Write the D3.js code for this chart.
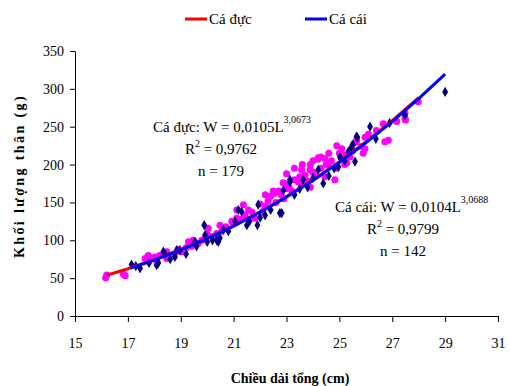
<!DOCTYPE html>
<html>
<head>
<meta charset="utf-8">
<script src="https://cdn.jsdelivr.net/npm/d3@7"></script>
<style>
  body { margin: 0; background: #fff; }
  svg { font-family: 'Liberation Serif', 'Times New Roman', serif; }
</style>
</head>
<body>
<figure id="chart" style="margin:0"></figure>
<script>
// male fish (Cá đực) - [length cm, weight g]
const malePoints = [
  [16.16, 50.6], [16.2, 54], [16.83, 55], [16.9, 53], [17.65, 76], [17.75, 78], [17.8, 74],
  [17.9, 77], [17.95, 76], [17.77, 80], [18.03, 78], [18.1, 72], [18.2, 80], [18.47, 76],
  [18.47, 85], [18.6, 80], [18.75, 82], [18.9, 88], [19.0, 85], [19.2, 90], [19.29, 98],
  [19.41, 92], [19.47, 100], [19.54, 96], [19.66, 96], [19.8, 100], [19.92, 103], [20.0, 108],
  [20.04, 116], [20.2, 105], [20.36, 109], [20.48, 120], [20.55, 112], [20.6, 115], [20.7, 118],
  [20.93, 125], [21.0, 122], [21.12, 129], [21.12, 140], [21.3, 128], [21.37, 147], [21.43, 133],
  [21.56, 140], [21.7, 137], [21.8, 129], [22.0, 148], [22.1, 138], [22.2, 145], [22.2, 160],
  [22.3, 152], [22.4, 158], [22.5, 165], [22.56, 162], [22.6, 150], [22.7, 165], [22.8, 160],
  [22.87, 176], [22.9, 155], [22.94, 175], [23.0, 188], [23.0, 168], [23.1, 170], [23.2, 165],
  [23.3, 180], [23.3, 195], [23.45, 177], [23.5, 184], [23.57, 193], [23.6, 175], [23.6, 200],
  [23.7, 186], [23.8, 178], [23.89, 193], [23.9, 200], [23.9, 170], [24.0, 190], [24.0, 205],
  [24.1, 185], [24.18, 207], [24.2, 209], [24.3, 195], [24.3, 210], [24.45, 208], [24.45, 184],
  [24.5, 200], [24.58, 199], [24.6, 215], [24.7, 205], [24.83, 180], [24.9, 195], [24.9, 225],
  [25.0, 215], [25.09, 221], [25.15, 213], [25.2, 200], [25.28, 202], [25.4, 210], [25.5, 218],
  [25.65, 232], [25.65, 230], [25.84, 224], [25.9, 215], [25.97, 221], [25.97, 236], [26.1, 240],
  [26.4, 245], [26.66, 254], [26.72, 230], [26.85, 232], [27.17, 257], [27.48, 261], [27.5, 259],
  [27.48, 268], [27.98, 283]
];

// female fish (Cá cái) - [length cm, weight g]
const femalePoints = [
  [17.14, 68], [17.3, 66], [17.46, 63], [17.8, 70], [18.09, 67], [18.15, 70], [18.34, 85],
  [18.4, 82], [18.6, 75], [18.78, 78], [18.85, 87], [18.97, 87], [19.2, 82], [19.54, 98],
  [19.6, 92], [19.89, 120], [19.92, 107], [20.0, 98], [20.2, 100], [20.36, 100], [20.42, 98],
  [20.48, 103], [20.61, 114], [20.8, 112], [21.05, 125], [21.18, 140], [21.3, 138], [21.5, 120],
  [21.6, 125], [21.9, 120], [21.93, 147], [22.0, 130], [22.19, 133], [22.4, 140], [22.75, 136],
  [22.82, 136], [22.88, 166], [23.13, 177], [23.13, 180], [23.3, 160], [23.5, 168], [23.63, 180],
  [23.8, 170], [24.0, 182], [24.2, 193], [24.39, 175], [24.6, 185], [24.8, 195], [24.96, 197],
  [25.02, 210], [25.05, 208], [25.2, 205], [25.34, 217], [25.4, 219], [25.49, 226], [25.52, 226],
  [25.59, 204], [25.65, 237], [25.68, 236], [26.16, 250], [26.38, 234], [26.9, 255], [27.48, 265],
  [29.0, 296]
];

// trend lines
const maleLineL = [16.2, 17, 18, 19, 20, 21, 22, 23, 24, 25, 26, 27, 28];
const maleLineW = [53.9, 62.4, 74.4, 87.8, 102.8, 119.3, 137.7, 157.8, 179.8, 203.7, 229.8, 257.9, 288.3];
const femaleLineL = [17.1, 18, 19, 20, 21, 22, 23, 24, 25, 26, 27, 28, 29];
const femaleLineW = [63.3, 74.0, 87.4, 102.3, 118.8, 137.0, 157.1, 179.1, 202.9, 228.8, 256.8, 287.1, 319.5];

const xTicks = [15, 17, 19, 21, 23, 25, 27, 29, 31];
const yTicks = [0, 50, 100, 150, 200, 250, 300, 350];

const width = 509, height = 386;
const svg = d3.select("#chart").append("svg")
  .attr("width", width)
  .attr("height", height)
  .attr("font-family", "'Liberation Serif', 'Times New Roman', serif");

const x = d3.scaleLinear().domain([15, 31]).range([75, 498]);
const y = d3.scaleLinear().domain([0, 350]).range([316, 51]);

// axes
svg.append("g")
  .attr("transform", "translate(0,316)")
  .call(d3.axisBottom(x).tickValues(xTicks).tickSize(6).tickSizeOuter(0).tickPadding(16))
  .attr("font-family", null).attr("font-size", 14)
  .call(g => g.selectAll("text").attr("fill", "#000"));

svg.append("g")
  .attr("transform", "translate(75,0)")
  .call(d3.axisLeft(y).tickValues(yTicks).tickSize(5).tickSizeOuter(0).tickPadding(6))
  .attr("font-family", null).attr("font-size", 14)
  .call(g => g.selectAll("text").attr("fill", "#000"));

svg.selectAll(".domain, .tick line").attr("stroke", "#000");

// scatter
svg.append("g").selectAll("circle")
  .data(malePoints)
  .enter().append("circle")
  .attr("cx", d => x(d[0]))
  .attr("cy", d => y(d[1]))
  .attr("r", 3.5)
  .attr("fill", "#ff00ff");

const diamond = d3.symbol().type(d3.symbolDiamond).size(30);
svg.append("g").selectAll("path")
  .data(femalePoints)
  .enter().append("path")
  .attr("transform", d => "translate(" + x(d[0]) + "," + y(d[1]) + ")")
  .attr("d", diamond)
  .attr("fill", "#000080");

// trend lines
const line = d3.line().x(d => x(d[0])).y(d => y(d[1]));
svg.append("path")
  .datum(maleLineL.map((l, i) => [l, maleLineW[i]]))
  .attr("d", line).attr("fill", "none").attr("stroke", "#ff0000").attr("stroke-width", 3);
svg.append("path")
  .datum(femaleLineL.map((l, i) => [l, femaleLineW[i]]))
  .attr("d", line).attr("fill", "none").attr("stroke", "#0000ff").attr("stroke-width", 3);

// legend
const legend = [
  { label: "Cá đực", color: "#ff0000", x: 185 },
  { label: "Cá cái", color: "#0000ff", x: 305 }
];
legend.forEach(d => {
  svg.append("line").attr("x1", d.x).attr("x2", d.x + 22).attr("y1", 19).attr("y2", 19)
    .attr("stroke", d.color).attr("stroke-width", 3);
  svg.append("text").attr("x", d.x + 24).attr("y", 24).attr("font-size", 15).text(d.label);
});

// equations
function equation(xs, ys, name, coef, expo, r2, n) {
  const t = svg.append("text").attr("x", xs).attr("y", ys).attr("font-size", 15);
  t.append("tspan").text(name + ": W = " + coef + "L");
  t.append("tspan").attr("dy", -9).attr("font-size", 10).text(expo);
  const cx = xs + 68;
  const r = svg.append("text").attr("x", cx).attr("y", ys + 22).attr("font-size", 15).attr("text-anchor", "middle");
  r.append("tspan").text("R");
  r.append("tspan").attr("dy", -7).attr("font-size", 10).text("2");
  r.append("tspan").attr("dy", 7).text(" = " + r2);
  svg.append("text").attr("x", cx).attr("y", ys + 44).attr("font-size", 15).attr("text-anchor", "middle").text("n = " + n);
}
equation(153, 132, "Cá đực", "0,0105", "3,0673", "0,9762", 179);
equation(335, 212, "Cá cái", "0,0104", "3,0688", "0,9799", 142);

// axis titles
svg.append("text").attr("x", 290).attr("y", 383).attr("text-anchor", "middle")
  .attr("font-size", 14).attr("font-weight", "bold").text("Chiều dài tổng (cm)");
svg.append("text").attr("transform", "translate(24,176) rotate(-90)").attr("text-anchor", "middle")
  .attr("font-size", 14).attr("font-weight", "bold").attr("letter-spacing", 2.4).text("Khối lượng thân (g)");
</script>
</body>
</html>
